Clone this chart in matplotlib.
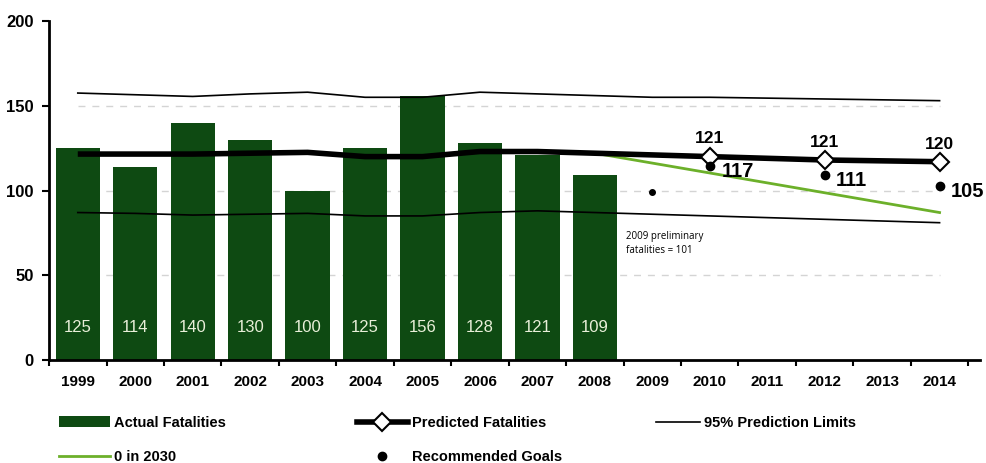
import numpy as np
import matplotlib
matplotlib.use('Agg')
import matplotlib.pyplot as plt
from matplotlib import rcParams
from matplotlib.patches import Patch
from matplotlib.lines import Line2D

rcParams['font.family'] = ['Liberation Sans', 'DejaVu Sans']
rcParams['font.weight'] = 'bold'

# data
years = ['1999', '2000', '2001', '2002', '2003', '2004', '2005', '2006',
         '2007', '2008', '2009', '2010', '2011', '2012', '2013', '2014']
actual = [125, 114, 140, 130, 100, 125, 156, 128, 121, 109]
predicted = [121.5, 121.5, 121.5, 122, 122.5, 120, 120, 123, 123, 122,
             121, 120, 119, 118, 117.5, 117]
upper_limit = [157.5, 156.5, 155.5, 157, 158, 155, 155, 158, 157, 156,
               155, 155, 154.5, 154, 153.5, 153]
lower_limit = [87, 86.5, 85.5, 86, 86.5, 85, 85, 87, 88, 87,
               86, 85, 84, 83, 82, 81]
pred_mark_years = ['2010', '2012', '2014']
pred_mark_labels = [121, 121, 120]
zero2030_years = ['2008', '2014']
zero2030 = [122, 87]
goal_years = ['2010', '2012', '2014']
goals = [114.5, 109, 102.5]
goal_labels = [117, 111, 105]
prelim_2009 = 99

bar_col = '#0e4a12'
green = '#6cb02a'

x = np.arange(len(years))
idx = {y: i for i, y in enumerate(years)}

fig = plt.figure(figsize=(9.87, 4.63), dpi=100)
ax = fig.add_axes([0.0497, 0.2225, 0.943, 0.7321])

# faint dashed grid
for g in [50, 100, 150]:
    ax.plot([0, 15], [g, g], color='#d4d4d4', lw=1, ls=(0, (5, 5)), zorder=0)

# bars
ax.bar(x[:len(actual)], actual, width=0.77, color=bar_col, zorder=2)
for i, v in enumerate(actual):
    ax.text(x[i], 19, str(v), ha='center', va='center', color='#e8efd8',
            fontsize=12, fontweight='normal', zorder=5)

# prediction limits
ax.plot(x, upper_limit, color='black', lw=1.2, zorder=3)
ax.plot(x, lower_limit, color='black', lw=1.2, zorder=3)

# 0 in 2030
ax.plot([idx[y] for y in zero2030_years], zero2030, color=green, lw=2, zorder=3)

# predicted
ax.plot(x, predicted, color='black', lw=4, zorder=4, solid_capstyle='butt')
pm = [idx[y] for y in pred_mark_years]
pv = [predicted[i] for i in pm]
ax.plot(pm, pv, ls='none', marker='D', ms=9, mfc='white', mec='black', mew=1.5, zorder=6)
for xi, yi, lab in zip(pm, pv, pred_mark_labels):
    ax.text(xi, yi + 6, str(lab), ha='center', va='bottom', fontsize=12.5, fontweight='bold')

# recommended goals
gx = [idx[y] for y in goal_years]
ax.plot(gx, goals, ls='none', marker='o', ms=6, color='black', zorder=7)
ax.plot([idx['2009']], [prelim_2009], ls='none', marker='o', ms=4, color='black', zorder=7)
for xi, yi, lab in zip(gx, goals, goal_labels):
    ax.text(xi + 0.2, yi - 3, str(lab), ha='left', va='center', fontsize=14.5,
            fontweight='bold')

ax.text(9.54, 76, '2009 preliminary\nfatalities = 101', ha='left', va='top',
        fontsize=7, fontweight='normal', family='Open Sans', linespacing=1.3)

# axes
ax.set_xlim(-0.5, 15.7)
ax.set_ylim(0, 200)
ax.set_yticks([0, 50, 100, 150, 200])
ax.set_xticks(np.arange(-0.5, 16, 1))
ax.set_xticklabels([])
ax.set_xticks(x, minor=True)
ax.set_xticklabels(years, minor=True)
ax.tick_params(axis='x', which='major', length=4, width=1.5, direction='out')
ax.tick_params(axis='x', which='minor', length=0, pad=11, labelsize=11)
ax.tick_params(axis='y', length=5, width=1.5, direction='out', labelsize=12, pad=6)
for lab in ax.get_xticklabels(minor=True) + ax.get_yticklabels():
    lab.set_fontweight('bold')
for s in ['top', 'right']:
    ax.spines[s].set_visible(False)
for s in ['left', 'bottom']:
    ax.spines[s].set_linewidth(2)

# legend, laid out in three columns
leg_kw = dict(frameon=False, loc='upper left', borderpad=0, handlelength=3.5,
              handletextpad=0.3, labelspacing=1.4, prop={'size': 10.5, 'weight': 'bold'})
h1 = [Patch(facecolor=bar_col, edgecolor='none'),
      Line2D([], [], color=green, lw=2)]
l1 = fig.legend(h1, ['Actual Fatalities', '0 in 2030'],
                bbox_to_anchor=(0.052, 0.118), **leg_kw)
h2 = [Line2D([], [], color='black', lw=4, marker='D', ms=9, mfc='white', mec='black', mew=1.5),
      Line2D([], [], ls='none', marker='o', ms=6, color='black')]
l2 = fig.legend(h2, ['Predicted Fatalities', 'Recommended Goals'],
                bbox_to_anchor=(0.354, 0.118), **leg_kw)
leg_kw['handlelength'] = 3.0
h3 = [Line2D([], [], color='black', lw=1.2)]
l3 = fig.legend(h3, ['95% Prediction Limits'],
                bbox_to_anchor=(0.657, 0.118), **leg_kw)

fig.savefig('out.png', dpi=100)
